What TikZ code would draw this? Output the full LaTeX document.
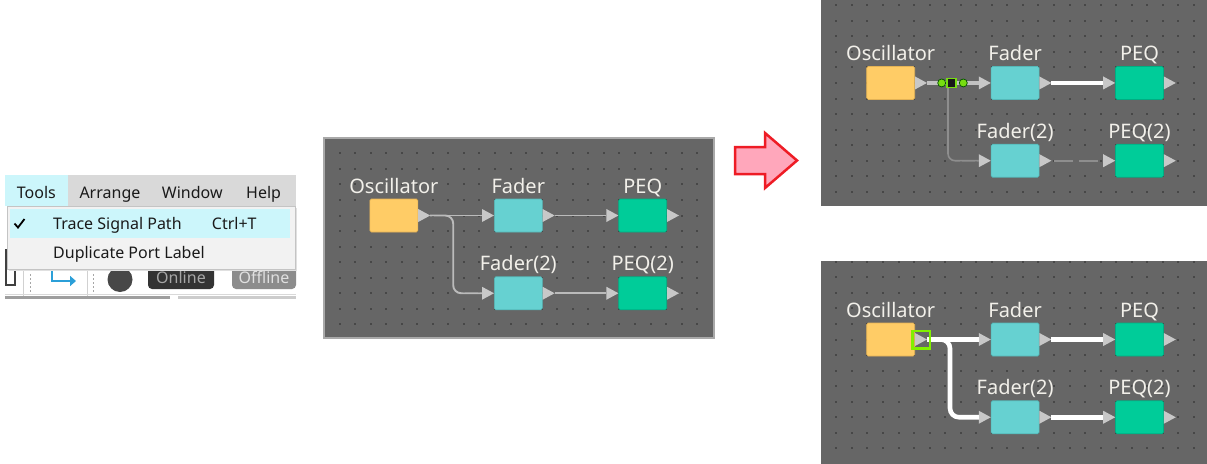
\documentclass[tikz,border=0pt]{standalone}
\usepackage{fontspec}
\setmainfont{Noto Sans}
\usetikzlibrary{arrows.meta}
\definecolor{oscc}{HTML}{FFCC66}
\definecolor{oscd}{HTML}{E3B255}
\definecolor{fadc}{HTML}{66D1D1}
\definecolor{fadd}{HTML}{55B8B8}
\definecolor{peqc}{HTML}{00CC99}
\definecolor{peqd}{HTML}{00AD82}
\definecolor{portc}{HTML}{C8C8C8}
\definecolor{labc}{HTML}{F2F0EA}
\definecolor{conng}{HTML}{BBBBBB}
\definecolor{dotc}{HTML}{474747}
\definecolor{canvasbg}{HTML}{666666}
\definecolor{canvasbd}{HTML}{A9A9A9}
\definecolor{selg}{HTML}{80F000}
\definecolor{hgreen}{HTML}{77DD11}
\definecolor{menubar}{HTML}{D9D9D9}
\definecolor{menuhl}{HTML}{CCF6FB}
\definecolor{menubg}{HTML}{F2F2F2}
\definecolor{menubd}{HTML}{C4C4C4}
\definecolor{menutext}{HTML}{1A1A1A}
\definecolor{arrpink}{HTML}{FFA7BB}
\definecolor{arrred}{HTML}{EE1C25}
\definecolor{iconblue}{HTML}{2B9FD8}
\definecolor{brconn}{HTML}{8E8E8E}
\definecolor{tconnc}{HTML}{C2C2C2}

\newcommand\dotgrid[4]{%
  \foreach \i in {#3} {\foreach \j in {#4} {\fill[dotc] ({#1+\i*15.55-1},{#2+\j*15.55-1}) rectangle ++(2,2);}}}

\newcommand\blockscene[1]{%
  \node[blk,fill=oscc,draw=oscd] (#1osc) at (54.4,62.2) {};
  \node[blk,fill=fadc,draw=fadd] (#1fad) at (178.8,62.2) {};
  \node[blk,fill=peqc,draw=peqd] (#1peq) at (303.2,62.2) {};
  \node[blk,fill=fadc,draw=fadd] (#1fadb) at (178.8,139.95) {};
  \node[blk,fill=peqc,draw=peqd] (#1peqb) at (303.2,139.95) {};
  \node[outp] (#1osc-o) at (#1osc.east) {};
  \node[inp] (#1fad-i) at (#1fad.west) {};
  \node[outp] (#1fad-o) at (#1fad.east) {};
  \node[inp] (#1peq-i) at (#1peq.west) {};
  \node[outp] (#1peq-o) at (#1peq.east) {};
  \node[inp] (#1fadb-i) at (#1fadb.west) {};
  \node[outp] (#1fadb-o) at (#1fadb.east) {};
  \node[inp] (#1peqb-i) at (#1peqb.west) {};
  \node[outp] (#1peqb-o) at (#1peqb.east) {};
  \node[lbl] (#1osc-l) at ([yshift=5.5pt]#1osc.north) {Oscillator};
  \node[lbl] (#1fad-l) at ([yshift=5.5pt]#1fad.north) {Fader};
  \node[lbl] (#1peq-l) at ([yshift=5.5pt]#1peq.north) {PEQ};
  \node[lbl] (#1fadb-l) at ([yshift=5.5pt]#1fadb.north) {Fader(2)};
  \node[lbl] (#1peqb-l) at ([yshift=5.5pt]#1peqb.north) {PEQ(2)};
}

\begin{document}
\begin{tikzpicture}[x=1pt,y=-1pt,
  blk/.style={rectangle,minimum width=48pt,minimum height=33pt,inner sep=0pt,rounded corners=1.5pt,line width=0.6pt},
  outp/.style={rectangle,minimum width=12pt,minimum height=13pt,inner sep=0pt,outer sep=0pt,anchor=west,
    path picture={\fill[portc] (path picture bounding box.north west) -- (path picture bounding box.east) -- (path picture bounding box.south west) -- cycle;}},
  inp/.style={outp,anchor=east},
  lbl/.style={anchor=base,inner sep=0pt,text=labc,font=\fontsize{20}{24}\selectfont},
  conn/.style={draw=conng,line width=1.9pt},
  tconn/.style={draw=tconnc,line width=4.5pt},
  bconn/.style={draw=brconn,line width=1.6pt},
  dconn/.style={draw=brconn,line width=1.6pt,dash pattern=on 19pt off 6pt,dash phase=22pt},
  wconn/.style={draw=white,line width=4.6pt},
  hcirc/.style={circle,fill=hgreen,draw=black!70!green,line width=0.7pt,minimum size=8pt,inner sep=0pt},
  hsq/.style={rectangle,fill=black!90,draw=hgreen,line width=1.6pt,minimum size=9pt,inner sep=0pt},
  mtxt/.style={anchor=base west,inner sep=0pt,text=menutext,font=\fontsize{16}{19}\selectfont},
  btxt/.style={anchor=base,inner sep=0pt,font=\fontsize{16}{19}\selectfont},
  canvas/.style={fill=canvasbg}
]
\useasboundingbox (0,0) rectangle (1207,463);
\clip (0,0) rectangle (1207,463);
\fill[white] (0,0) rectangle (1207,463);

% ---------- toolbar (partly hidden by the menu) ----------
\filldraw[fill=white,draw=black!75,line width=1.1pt] (6,250) rectangle (15,285);
\draw[black!18,line width=1pt] (23,262) -- (23,297);
\foreach \yy in {274,278,282,286,290} {\fill[black!35] (29.5,\yy) rectangle ++(1.5,1.5);}
\draw[iconblue,line width=2.2pt,-{Triangle[length=6pt,width=10pt]}] (52,262) -- (52,281) -- (76,281);
\draw[black!18,line width=1pt] (87,262) -- (87,297);
\foreach \yy in {274,278,282,286,290} {\fill[black!35] (92.5,\yy) rectangle ++(1.5,1.5);}
\fill[black!72] (120,279.5) circle (12.5);
\fill[black!80, rounded corners=4pt] (148,258) rectangle (214,289);
\node[btxt,text=black!35] (online) at (181,283) {Online};
\fill[black!45, rounded corners=4pt] (232,258) rectangle (296,289);
\node[btxt,text=black!12] (offline) at (264,283) {Offline};
\draw[black!38,line width=3pt] (5,297.5) -- (170,297.5);
\draw[black!20,line width=3pt] (178,297.5) -- (296,297.5);
\draw[black!15,line width=0.8pt] (5,294.5) -- (296,294.5);

% ---------- menu bar ----------
\fill[menubar] (5,175) rectangle (296,206);
\fill[menuhl] (5,175) rectangle (68,206);
\node[mtxt] (mtools) at (16.7,198.3) {Tools};
\node[mtxt] (marrange) at (79.3,198.3) {Arrange};
\node[mtxt] (mwindow) at (161.7,198.3) {Window};
\node[mtxt] (mhelp) at (246,198.3) {Help};

% ---------- dropdown ----------
\fill[black!12] (8.5,207.5) rectangle (296.5,270.5);
\filldraw[fill=menubg,draw=menubd,line width=0.8pt] (7,206) rectangle (295,269);
\fill[menuhl] (9.5,209) rectangle (290,237.5);
\draw[black,line width=1.8pt] (14.5,223.5) -- (18,227.5) -- (24.5,219);
\node[mtxt] (mtrace) at (53,229.5) {Trace Signal Path};
\node[mtxt] (mctrl) at (211.7,229.5) {Ctrl+T};
\node[mtxt] (mdup) at (53,258.3) {Duplicate Port Label};

% ---------- middle canvas ----------
\filldraw[fill=canvasbg,draw=canvasbd,line width=1.2pt] (324,138) rectangle (714,338);
\dotgrid{339.5}{153.3}{0,...,23}{0,...,11}
\begin{scope}[shift={(339.5,153.3)}]
  \blockscene{m}
\end{scope}
\draw[conn] (mosc-o.east) -- (mfad-i.west);
\draw[conn,rounded corners=8pt] (mosc-o.east) -- ++(23,0) |- (mfadb-i.west);
\draw[conn] (mfad-o.east) -- (mpeq-i.west);
\draw[conn] (mfadb-o.east) -- (mpeqb-i.west);

% ---------- red arrow ----------
\draw[draw=arrred,fill=arrpink,line width=2.5pt,line join=miter]
  (735,147) -- (765,147) -- (765,133) -- (797,160.5) -- (765,188) -- (765,174) -- (735,174) -- cycle;

% ---------- top right canvas ----------
\fill[canvas] (821,-2) rectangle (1210,206);
\dotgrid{836.3}{20.75}{0,...,24}{-1,...,11}
\begin{scope}[shift={(836.3,20.75)}]
  \blockscene{t}
\end{scope}
\coordinate (tsplit) at ([xshift=21pt]tosc-o.east);
\draw[bconn,rounded corners=7pt] (tsplit) |- (tfadb-i.west);
\draw[tconn] (tosc-o.east) -- (tfad-i.west);
\draw[wconn] (tfad-o.east) -- (tpeq-i.west);
\draw[dconn] (tfadb-o.east) -- (tpeqb-i.west);
\node[hcirc] (th1) at ([xshift=14.7pt]tosc-o.east) {};
\node[hsq] (th2) at ([xshift=24.7pt]tosc-o.east) {};
\node[hcirc] (th3) at ([xshift=36.3pt]tosc-o.east) {};

% ---------- bottom right canvas ----------
\fill[canvas] (821,261) rectangle (1210,465);
\dotgrid{836.3}{277.3}{0,...,24}{-1,...,11}
\begin{scope}[shift={(836.3,277.3)}]
  \blockscene{b}
\end{scope}
\draw[wconn] (bosc-o.east) -- (bfad-i.west);
\draw[wconn,rounded corners=9pt] (bosc-o.east) -- ++(23,0) |- (bfadb-i.west);
\draw[wconn] (bfad-o.east) -- (bpeq-i.west);
\draw[wconn] (bfadb-o.east) -- (bpeqb-i.west);
\draw[selg,line width=2.6pt] ([shift={(-2.5,-2.2)}]bosc-o.north west) rectangle ([shift={(2.8,2.2)}]bosc-o.south east);
\end{tikzpicture}
\end{document}
